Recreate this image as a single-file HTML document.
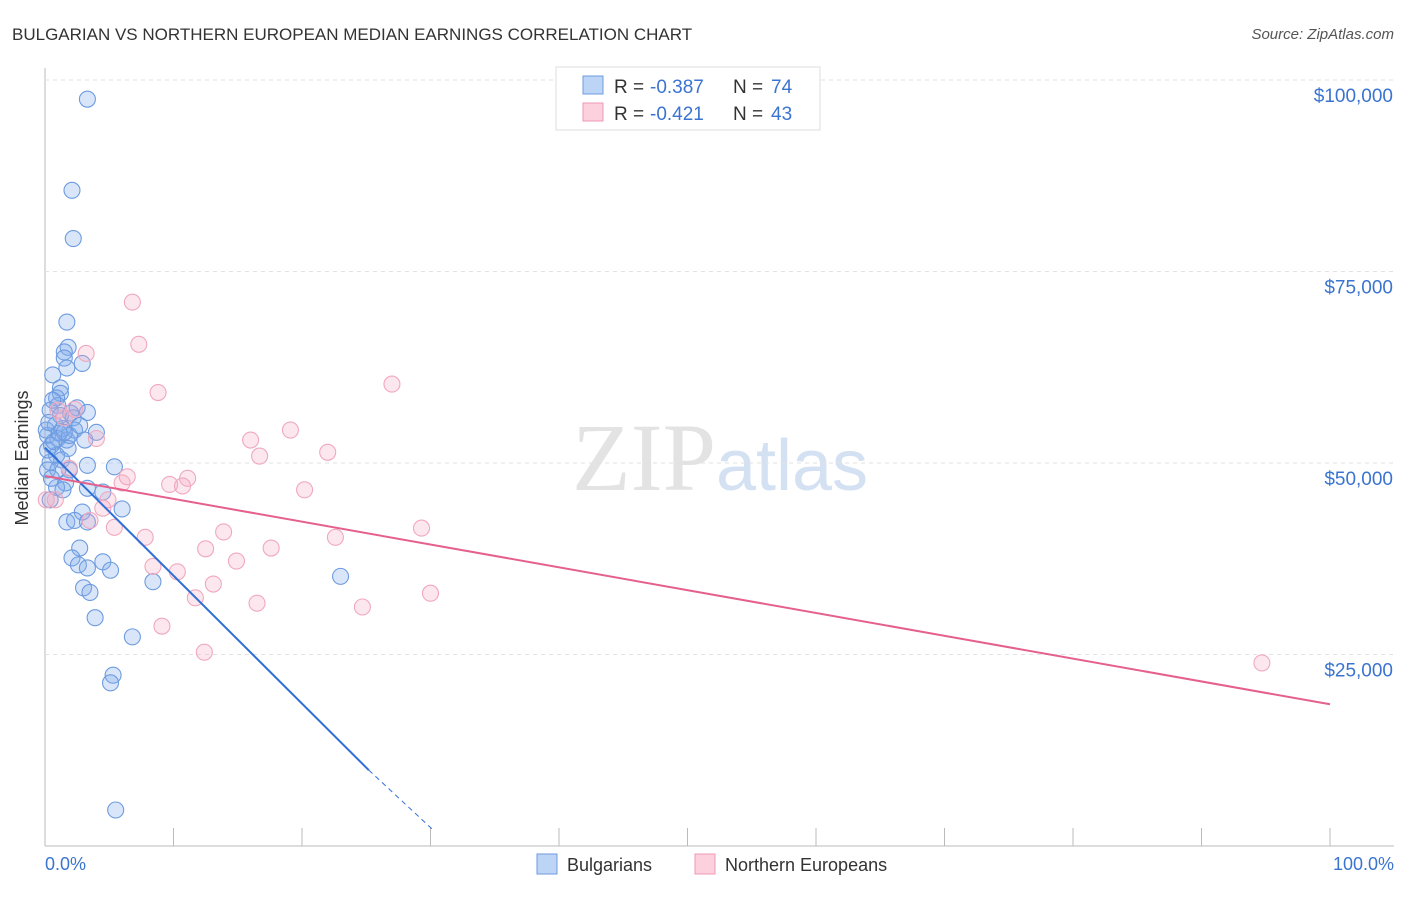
<!DOCTYPE html>
<html><head><meta charset="utf-8"><style>
body{margin:0;background:#fff;font-family:"Liberation Sans",sans-serif}
</style></head><body>
<svg id="c" width="1406" height="892" xmlns="http://www.w3.org/2000/svg">
<text x="12" y="40" font-size="17" fill="#333">BULGARIAN VS NORTHERN EUROPEAN MEDIAN EARNINGS CORRELATION CHART</text>
<text x="1394" y="39" font-size="15" fill="#555" text-anchor="end" font-style="italic">Source: ZipAtlas.com</text>
<text x="720" y="490" font-size="96" fill="#e3e3e3" text-anchor="middle" font-family="Liberation Serif">ZIP<tspan fill="#d3e1f3" font-family="Liberation Sans" font-size="72">atlas</tspan></text>
<g id="grid"></g><g id="pts"></g><g id="lines"></g>
<text x="28" y="458" font-size="18" fill="#333" text-anchor="middle" transform="rotate(-90 28 458)">Median Earnings</text>
<text x="45" y="870" font-size="18" fill="#3b74d0">0.0%</text>
<text x="1394" y="870" font-size="18" fill="#3b74d0" text-anchor="end">100.0%</text>
<g>
<rect x="556" y="67" width="264" height="63" fill="#fff" stroke="#ddd"/>
<rect x="583" y="76" width="20" height="18" fill="#bcd4f5" stroke="#6d9be0"/>
<rect x="583" y="103" width="20" height="18" fill="#fcd0dd" stroke="#ee99b3"/>
<text x="614" y="93" font-size="19" fill="#333">R =</text>
<text x="650" y="93" font-size="19" fill="#3b74d0">-0.387</text>
<text x="733" y="93" font-size="19" fill="#333">N =</text>
<text x="771" y="93" font-size="19" fill="#3b74d0">74</text>
<text x="614" y="120" font-size="19" fill="#333">R =</text>
<text x="650" y="120" font-size="19" fill="#3b74d0">-0.421</text>
<text x="733" y="120" font-size="19" fill="#333">N =</text>
<text x="771" y="120" font-size="19" fill="#3b74d0">43</text>
</g>
<g>
<rect x="537" y="854" width="20" height="20" fill="#bcd4f5" stroke="#6d9be0"/>
<text x="567" y="871" font-size="18" fill="#333">Bulgarians</text>
<rect x="695" y="854" width="20" height="20" fill="#fcd0dd" stroke="#ee99b3"/>
<text x="725" y="871" font-size="18" fill="#333">Northern Europeans</text>
</g>
</svg>
<script>
const yTicks=[25000,50000,75000,100000];
const yTickLabels=["$25,000","$50,000","$75,000","$100,000"];
const blueX=[3.3,2.1,2.2,1.7,1.8,1.5,1.5,2.9,1.7,0.6,1.2,1.2,0.9,1.0,0.4,2.5,3.3,2.2,0.8,1.4,2.3,4.0,0.2,1.0,1.7,0.5,1.8,0.9,1.3,0.4,3.3,5.4,1.9,1.6,0.9,3.3,4.5,1.4,6.0,2.9,1.7,2.3,3.3,2.7,2.1,4.5,2.6,3.3,5.1,8.4,23.0,3.0,3.5,3.9,6.8,5.3,5.1,5.5,0.1,0.2,0.6,1.2,1.9,0.2,0.4,1.0,2.7,3.1,0.3,0.7,1.1,2.0,0.5,1.5];
const blueY=[97500,85600,79300,68400,65100,64500,63700,63000,62400,61500,59800,59100,58500,57500,56900,57200,56600,55900,54900,54500,54300,54000,53600,53200,53000,52300,51900,51000,50400,50100,49700,49500,49100,47400,46800,46700,46200,46500,44000,43600,42300,42500,42300,38900,37600,37100,36700,36300,36000,34500,35200,33700,33100,29800,27300,22300,21300,4700,54300,51700,58200,56200,53600,49100,45200,49100,54900,53000,55300,52800,53900,56500,48000,54000];
const pinkX=[6.8,7.3,3.2,8.8,27.0,19.1,16.0,4.0,22.0,16.7,1.5,2.3,1.9,6.4,11.1,9.7,10.7,6.0,20.2,0.8,4.9,4.5,3.5,5.4,29.3,13.9,7.8,22.6,12.5,17.6,14.9,8.4,10.3,13.1,30.0,11.7,16.5,24.7,9.1,12.4,94.7,0.1,1.0];
const pinkY=[71000,65500,64300,59200,60300,54300,53000,53200,51400,50900,55900,57000,49300,48200,48000,47200,47000,47400,46500,45200,45200,44100,42500,41600,41500,41000,40300,40300,38800,38900,37200,36500,35800,34200,33000,32400,31700,31200,28700,25300,23900,45200,56900];
const blueLine=[0,52000,25.2,9900,30.2,2100];
const pinkLine=[0,48300,100,18500];
const X=v=>45+v*12.85, Y=v=>846-v*191.5/25000;
const NS="http://www.w3.org/2000/svg";
function mk(t,a,p){const e=document.createElementNS(NS,t);for(const k in a)e.setAttribute(k,a[k]);p.appendChild(e);return e;}
const g=document.getElementById('grid');
mk('line',{x1:45,y1:68,x2:45,y2:846,stroke:'#bbb'},g);
mk('line',{x1:45,y1:846,x2:1394,y2:846,stroke:'#bbb'},g);
for(let i=1;i<=10;i++){const l=mk('line',{x1:X(i*10),y1:828,x2:X(i*10),y2:846,stroke:'#bbb'},g);

}
yTicks.forEach((t,i)=>{const l=mk('line',{x1:45,y1:Y(t),x2:1394,y2:Y(t),stroke:'#e2e2e2','stroke-dasharray':'4 4'},g);


const tx=mk('text',{x:1393,y:Y(t)+22,'font-size':19,fill:'#3b74d0','text-anchor':'end'},g);tx.textContent=yTickLabels[i];

});
const P=document.getElementById('pts');
blueX.forEach((x,i)=>{const c=mk('circle',{cx:X(x),cy:Y(blueY[i]),r:8,fill:'rgba(130,172,235,0.3)',stroke:'#6d9be0','stroke-width':1.1},P);

});
pinkX.forEach((x,i)=>{const c=mk('circle',{cx:X(x),cy:Y(pinkY[i]),r:8,fill:'rgba(245,170,195,0.28)',stroke:'#f0a8be','stroke-width':1.1},P);

});
const L=document.getElementById('lines');
let a=mk('line',{x1:X(blueLine[0]),y1:Y(blueLine[1]),x2:X(blueLine[2]),y2:Y(blueLine[3]),stroke:'#2f6fd6','stroke-width':2},L);


a=mk('line',{x1:X(blueLine[2]),y1:Y(blueLine[3]),x2:X(blueLine[4]),y2:Y(blueLine[5]),stroke:'#2f6fd6','stroke-width':1,'stroke-dasharray':'5 4'},L);


a=mk('line',{x1:X(pinkLine[0]),y1:Y(pinkLine[1]),x2:X(pinkLine[2]),y2:Y(pinkLine[3]),stroke:'#e5608c','stroke-width':2},L);


</script>
</body></html>
